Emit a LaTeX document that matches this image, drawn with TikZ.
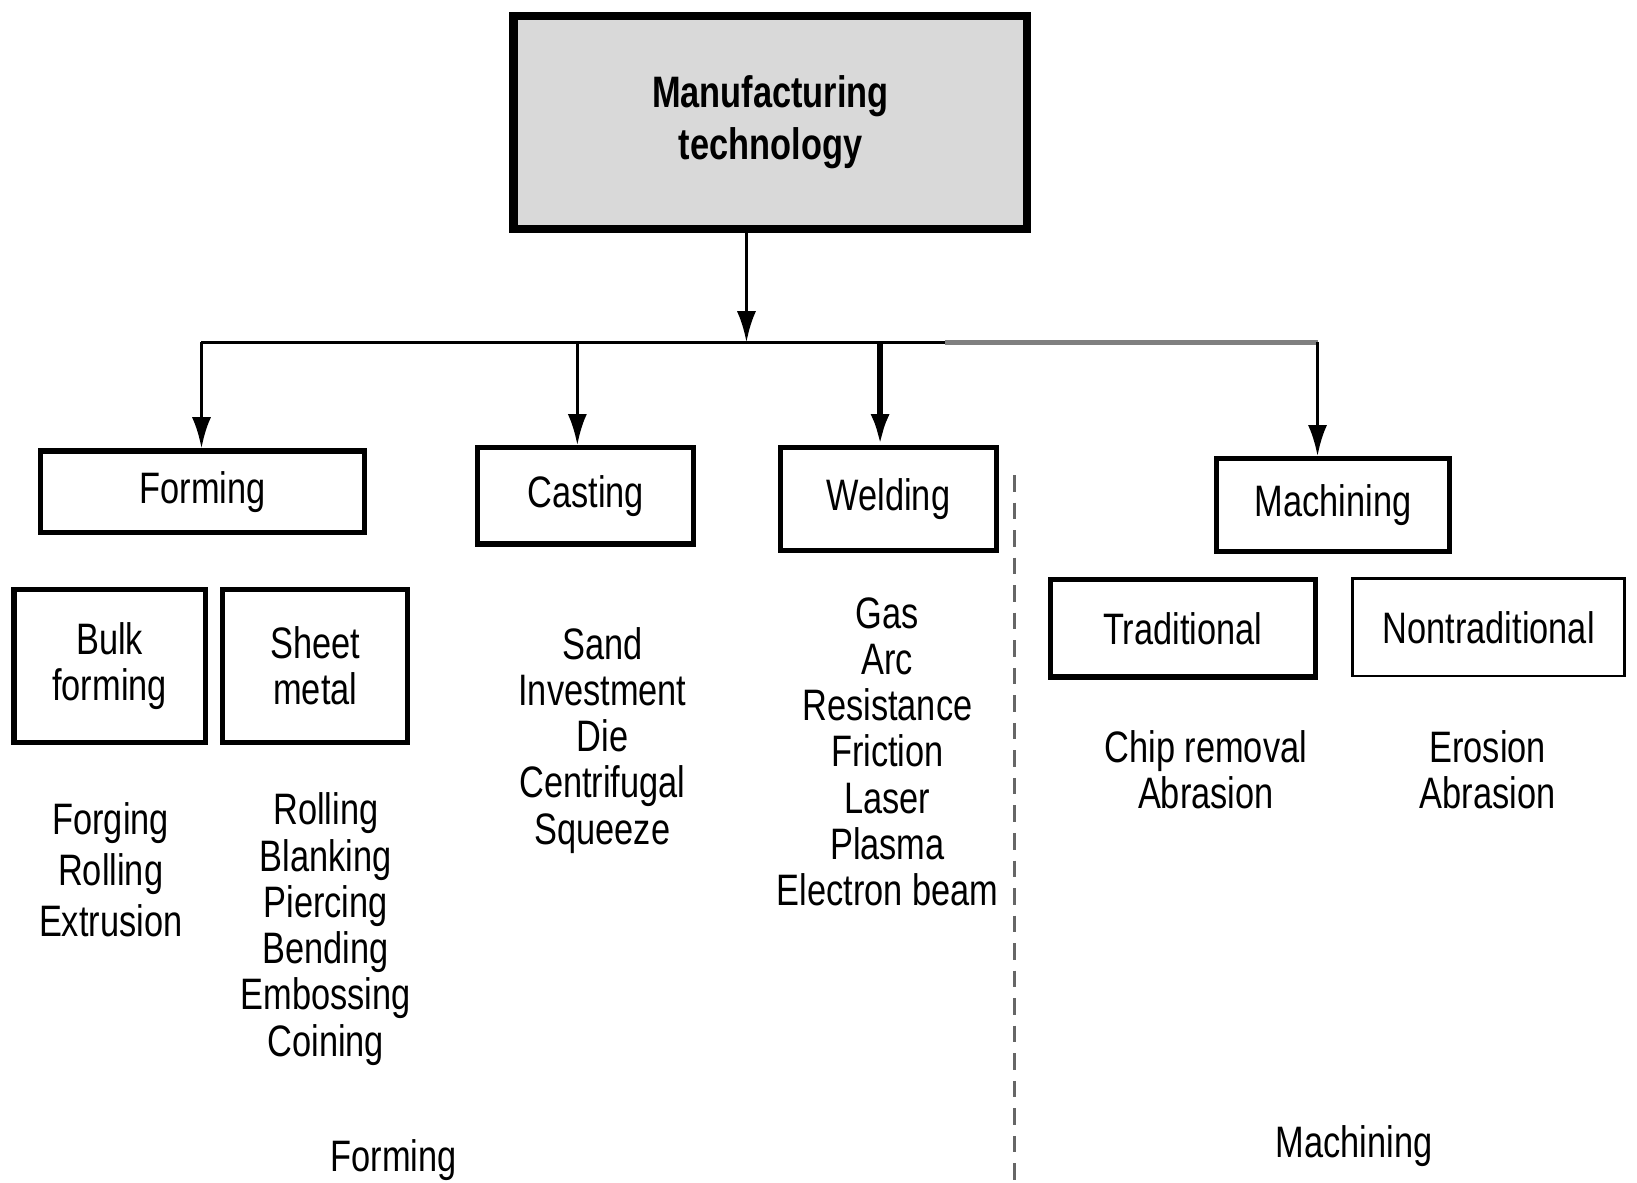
\documentclass[tikz,border=0pt]{standalone}
\usepackage{fontspec}
\setmainfont{Liberation Sans}[FakeStretch=0.78]
\usepackage{xcolor}
\usepackage{tikz}
\usetikzlibrary{arrows.meta, positioning}

\definecolor{topgray}{HTML}{D9D9D9}
\definecolor{busgray}{HTML}{808080}

\begin{document}
\begin{tikzpicture}[x=0.01cm, y=-0.01cm]
		\tikzset{
			box/.style={rectangle, draw, black, line width=1.4pt, align=center, inner sep=0pt,
			font=\fontsize{12}{12.6}\selectfont},
			topbox/.style={box, fill=topgray, line width=2.2pt, font=\bfseries\fontsize{12}{14.2}\selectfont},
			list/.style={align=center, inner sep=0pt, font=\fontsize{12}{12.6}\selectfont},
			arr/.style={-{Latex[length=8.5pt, width=5.2pt]}, line width=1pt}
		}
		\useasboundingbox (0,0) rectangle (1568,1133);

		\node[topbox, minimum width=4.92cm, minimum height=2.04cm](mt) at (738,117){Manufacturing\\technology};

		\node[box, minimum width=3.1cm, minimum height=0.78cm](forming) at (194,471){Forming};
		\node[box, minimum width=2.07cm, minimum height=0.92cm](casting) at (561,475){Casting};
		\node[box, minimum width=2.07cm, minimum height=0.98cm](welding) at (851,478){Welding};
		\node[box, minimum width=2.23cm, minimum height=0.89cm](machining) at (1277,484){Machining};

		\node[box, minimum width=1.83cm, minimum height=1.46cm](bulk) at (105,638){Bulk\\forming};
		\node[box, minimum width=1.77cm, minimum height=1.46cm](sheet) at (302,638){Sheet\\metal};
		\node[box, minimum width=2.54cm, minimum height=0.93cm](trad) at (1133,602){Traditional};
		\node[box, line width=0.8pt, minimum width=2.6cm, minimum height=0.93cm](nontrad) at (1426,601){Nontraditional};

		\node[list, font=\fontsize{12}{13.8}\selectfont](bulklist) at (106,833){Forging\\Rolling\\Extrusion};
		\node[list](sheetlist) at (312,890){Rolling\\Blanking\\Piercing\\Bending\\Embossing\\Coining};
		\node[list](castlist) at (577,709){Sand\\Investment\\Die\\Centrifugal\\Squeeze};
		\node[list](weldlist) at (850,720){Gas\\Arc\\Resistance\\Friction\\Laser\\Plasma\\Electron beam};
		\node[list](tradlist) at (1155,737){Chip removal\\Abrasion};
		\node[list](nontradlist) at (1425,737){Erosion\\Abrasion};

		\node[list](formlbl) at (377,1111){Forming};
		\node[list](machlbl) at (1297,1098){Machining};

		% bus under the top box
		\coordinate (busc) at (715,328);
		\coordinate (b1) at (193,328);
		\coordinate (b2) at (553,328);
		\coordinate (b3) at (843,328);
		\coordinate (bm) at (905,328);
		\coordinate (b4) at (1262,328);

		\draw[arr](mt.south -| busc) -- (busc);
		\draw[line width=1pt](b1) -- (bm);
		\draw[busgray, line width=1.2pt](bm) -- (b4);
		\draw[arr](b1) -- (b1 |- forming.north);
		\draw[arr](b2) -- (b2 |- casting.north);
		\draw[arr, line width=1.6pt](b3) -- (b3 |- welding.north);
		\draw[arr](b4) -- (b4 |- machining.north);

		% divider
		\coordinate (d1) at (972,455);
		\coordinate (d2) at (972,1133);
		\draw[black!60, line width=0.7pt, dash pattern=on 4.5pt off 3pt](d1) -- (d2);
	\end{tikzpicture}
\end{document}
